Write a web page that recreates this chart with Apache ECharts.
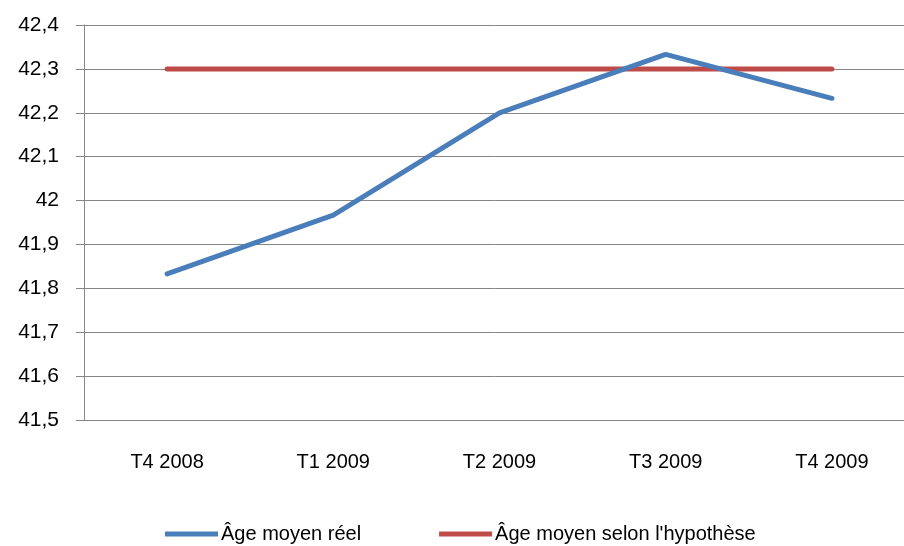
<!DOCTYPE html>
<html>
<head>
<meta charset="utf-8">
<script src="https://cdn.jsdelivr.net/npm/echarts@6/dist/echarts.min.js"></script>
<style>
  html, body { margin: 0; padding: 0; background: #fff; }
  #chart { width: 904px; height: 546px; }
</style>
</head>
<body>
<div id="chart"></div>
<script>
// trimestres
var quarters = ['T4 2008', 'T1 2009', 'T2 2009', 'T3 2009', 'T4 2009'];
// âge moyen réel
var ageReel = [41.833, 41.967, 42.2, 42.333, 42.233];
// âge moyen selon l'hypothèse
var ageHypothese = [42.3, 42.3, 42.3, 42.3, 42.3];

var font = 'Liberation Sans';
var gridColor = '#868686';

var myChart = echarts.init(document.getElementById('chart'));

myChart.setOption({
    animation: false,
    textStyle: { fontFamily: font },
    grid: { left: 84, top: 25, width: 831, bottom: 126, outerBoundsMode: 'none', containLabel: false },
    legend: {
        left: 160,
        top: 519,
        icon: 'rect',
        itemWidth: 53,
        itemHeight: 5,
        itemGap: 78,
        textStyle: { fontFamily: font, fontSize: 20, color: '#000', padding: [0, 0, 0, -2] },
        data: ['Âge moyen réel', "Âge moyen selon l'hypothèse"]
    },
    xAxis: {
        type: 'category',
        data: quarters,
        boundaryGap: true,
        axisLine: { lineStyle: { color: gridColor, width: 1 } },
        axisTick: { length: 7, lineStyle: { color: gridColor } },
        axisLabel: { color: '#000', fontSize: 20, margin: 32, fontFamily: font }
    },
    yAxis: {
        type: 'value',
        min: 41.5,
        max: 42.4,
        interval: 0.1,
        axisLine: { show: true, lineStyle: { color: gridColor, width: 1 } },
        axisTick: { show: true, length: 8, lineStyle: { color: gridColor } },
        splitLine: { lineStyle: { color: gridColor, width: 1 } },
        axisLabel: {
            color: '#000',
            fontSize: 21,
            margin: 25,
            fontFamily: font,
            formatter: function (v) {
                return String(Math.round(v * 10) / 10).replace('.', ',');
            }
        }
    },
    series: [
        {
            name: 'Âge moyen réel',
            type: 'line',
            data: ageReel,
            symbol: 'none',
            itemStyle: { color: '#4A7EBB' },
            lineStyle: { color: '#4A7EBB', width: 5, cap: 'round', join: 'round' }
        },
        {
            name: "Âge moyen selon l'hypothèse",
            type: 'line',
            data: ageHypothese,
            symbol: 'none',
            z: 1,
            itemStyle: { color: '#BE4B48' },
            lineStyle: { color: '#BE4B48', width: 5, cap: 'round' }
        }
    ]
});
</script>
</body>
</html>
